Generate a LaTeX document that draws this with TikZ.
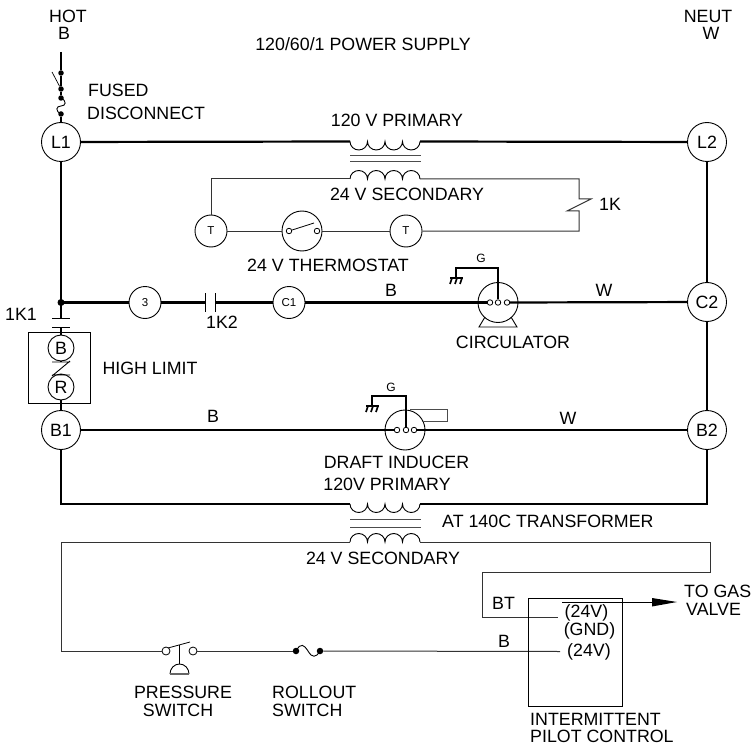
\documentclass[tikz,border=0pt]{standalone}
\usepackage{fontspec}
\setmainfont{Liberation Sans}
\usetikzlibrary{arrows.meta}
\tikzset{
  heavy/.style={line width=2.2pt,black},
  thin wire/.style={line width=1pt,black!80},
  term/.style={circle,draw,line width=0.9pt,fill=white,inner sep=0pt,minimum size=39pt,font=\fontsize{17.8}{18}\selectfont},
  smallterm/.style={circle,draw,line width=0.9pt,fill=white,inner sep=0pt,minimum size=32pt,font=\fontsize{11.5}{12}\selectfont},
  hl/.style={circle,draw,line width=0.9pt,fill=white,inner sep=0pt,minimum size=26pt,font=\fontsize{17.8}{18}\selectfont},
  lab/.style={inner sep=0pt,font=\fontsize{17.8}{18}\selectfont},
  small/.style={inner sep=0pt,font=\fontsize{12}{13}\selectfont},
  pin/.style={circle,draw,line width=0.8pt,fill=white,inner sep=0pt,minimum size=5.5pt},
  blob/.style={circle,fill=black,inner sep=0pt,minimum size=5.5pt},
  motor/.style={circle,draw,line width=0.9pt,inner sep=0pt,minimum size=40pt},
}
\begin{document}
\begin{tikzpicture}[x=1pt,y=-1pt]
\useasboundingbox (0,0) rectangle (752,746);
% terminals
\node[term] (L1) at (61,142) {L1};
\node[term] (L2) at (707,142) {L2};
\node[term] (C2) at (707,302) {C2};
\node[term] (B1) at (61,430) {B1};
\node[term] (B2) at (707,430) {B2};
\node[smallterm] (n3) at (145,302.5) {3};
\node[smallterm] (C1) at (289,302.5) {C1};
\node[hl] (hB) at (61,348) {B};
\node[hl] (hR) at (61,387) {R};
\node[smallterm] (T1) at (211,231) {T};
\node[smallterm] (T2) at (406,231) {T};
\node[motor] (stat) at (302,231) {};
\node[motor] (circ) at (498,302.5) {};
\node[motor] (ind) at (405,430) {};
% coordinates
\coordinate (top) at (61,52);
\coordinate (j) at (61,302.5);
\coordinate (tp1l) at (350,141.5);
\coordinate (tp1r) at (420,141.5);
\coordinate (ts1l) at (350,179);
\coordinate (ts1r) at (420,179);
\coordinate (tp2l) at (350,504);
\coordinate (tp2r) at (420,504);
\coordinate (ts2l) at (350,542);
\coordinate (ts2r) at (420,542);
% fused disconnect
\node[blob] (f1) at (61,73) {};
\node[blob] (f2) at (61,89) {};
\node[blob] (f3) at (61,98) {};
\node[blob] (f4) at (61,114) {};
\draw[heavy] (top) -- (f1);
\draw[heavy] (f1) -- (f2);
\draw[line width=0.7pt] (52,72) -- (f2);
\draw[heavy] (f2) -- (f3);
\draw[line width=0.9pt] (f3.center) .. controls (67,101) and (66,106) .. (61,106) .. controls (56,106) and (55,111) .. (f4.center);
\draw[heavy] (f4) -- (L1);
% main wires
\draw[heavy] (L1) -- (tp1l);
\draw[heavy] (tp1r) -- (L2);
\draw[heavy] (L1) -- (j);
\node[blob,minimum size=7pt] at (j) {};
\draw[heavy] (j) -- (n3);
\draw[heavy] (n3) -- (205,302.5) (215,302.5) -- (C1);
\draw[line width=0.9pt] (205,293) -- (205,312) (215,293) -- (215,312);
\draw[heavy] (C1) -- (490,302.5);
\draw[heavy] (507,302.5) -- (C2);
\draw[heavy] (L2) -- (C2);
\draw[heavy] (C2) -- (B2);
% 1K1 and high limit
\draw[heavy] (j) -- (61,318);
\draw[line width=0.9pt] (52,318) -- (70,318) (52,327) -- (70,327);
\draw[heavy] (61,327) -- (hB);
\draw[line width=1pt] (28,332) rectangle (90,403);
\draw[heavy] (hB) -- (61,362);
\draw[heavy] (61,375) -- (hR);
\draw[line width=0.9pt] (52,362) -- (70,362) (52,375) -- (70,375) (52,376) -- (70,361);
\draw[heavy] (hR) -- (B1);
\draw[heavy] (B1) -- (397,430);
\draw[heavy] (414,430) -- (B2);
\draw[heavy] (B1) -- (61,504) -- (tp2l);
\draw[heavy] (tp2r) -- (707,504) -- (B2);
% transformers
\foreach \ya/\yb/\yc/\yd in {141.5/156/162/179, 504/519/527/542}{
  \draw[line width=1pt,black!70] (350,\yb) -- (421,\yb) (350,\yc) -- (421,\yc);
  \draw[line width=0.9pt] (350,\ya) arc[start angle=180,end angle=0,x radius=8.75,y radius=8.5] arc[start angle=180,end angle=0,x radius=8.75,y radius=8.5] arc[start angle=180,end angle=0,x radius=8.75,y radius=8.5] arc[start angle=180,end angle=0,x radius=8.75,y radius=8.5];
  \draw[line width=0.9pt] (350,\yd) arc[start angle=180,end angle=360,x radius=8.75,y radius=8.5] arc[start angle=180,end angle=360,x radius=8.75,y radius=8.5] arc[start angle=180,end angle=360,x radius=8.75,y radius=8.5] arc[start angle=180,end angle=360,x radius=8.75,y radius=8.5];
}
% thermostat circuit
\draw[thin wire] (ts1l) -| (T1);
\draw[thin wire] (ts1r) -- (579,179) -- (579,199) -- (591,199) -- (567,211) -- (579,211) -- (579,231) -- (T2);
\draw[thin wire] (T1) -- (stat);
\draw[thin wire] (stat) -- (T2);
\node[pin] (s1) at (289,231) {};
\node[pin] (s2) at (317,231) {};
\draw[line width=0.8pt] (s1) -- (314,223);
% circulator
\node[pin] (c1) at (490,302.5) {};
\node[pin] (c2) at (498,302.5) {};
\node[pin] (c3) at (507,302.5) {};
\draw[heavy] (c2) -- (498,268) -- (456,268) -- (456,278);
\draw[line width=0.9pt] (485,317) -- (479,327) -- (517,327) -- (511,317);
% ground
\foreach \gx/\gy in {456/278, 372/406}{
  \draw[heavy] (\gx-6,\gy) -- (\gx+7,\gy);
  \draw[line width=1.6pt] (\gx-4,\gy) -- (\gx-6,\gy+6) (\gx+1,\gy) -- (\gx-1,\gy+6) (\gx+6,\gy) -- (\gx+4,\gy+6);
}
% inducer
\node[pin] (d1) at (397,430) {};
\node[pin] (d2) at (406,430) {};
\node[pin] (d3) at (414,430) {};
\draw[heavy] (d2) -- (406,396) -- (372,396) -- (372,406);
\draw[line width=0.9pt,black!70] (410,409) -- (447,409) -- (447,421) -- (422,421);
% lower circuit
\node[pin,minimum size=8pt] (p1) at (166,651) {};
\node[pin,minimum size=8pt] (p2) at (193,651) {};
\node[blob,minimum size=6.5pt] (r1) at (296,651) {};
\node[blob,minimum size=6.5pt] (r2) at (320,651) {};
\coordinate (cr) at (61,542);
\draw[thin wire] (ts2l) -- (cr) -- (61,651) -- (p1);
\draw[thin wire] (p2) -- (r1);
\draw[line width=0.9pt] (r1.center) .. controls (301,642) and (304,645) .. (308,651) .. controls (312,658) and (316,658) .. (r2.center);
\draw[line width=0.8pt] (168,648) -- (190,642);
\draw[line width=0.9pt] (179,645) -- (179,664);
\draw[line width=0.9pt] (170,674) arc[start angle=180,end angle=360,x radius=9.5,y radius=10];
\draw[line width=1.2pt,black!60] (170,674) -- (189,674);
\draw[thin wire] (ts2r) -- (710,542) -- (710,572) -- (482,572) -- (482,617) -- (558,617);
\draw[thin wire] (r2) -- (560,651.5);
\node[draw,line width=1pt,minimum width=94pt,minimum height=108pt,inner sep=0pt] (ctrl) at (575,652) {};
\coordinate (gv) at (562,602);
\coordinate (gvt) at (677,602);
\draw[line width=0.9pt] (gv) -- (652,602);
\fill (652,598) -- (gvt) -- (652,606.5) -- cycle;
% labels
\node[lab] (hot) at (68,16.5) {HOT};
\node[lab] (hb) at (64,33.5) {B};
\node[lab] (neut) at (708,16.5) {NEUT};
\node[lab] (nw) at (711,33.5) {W};
\node[lab] at (363,44) {120/60/1 POWER SUPPLY};
\node[lab,anchor=west] at (88,90) {FUSED};
\node[lab,anchor=west] at (87,113) {DISCONNECT};
\node[lab] at (397,120) {120 V PRIMARY};
\node[lab] at (407,194) {24 V SECONDARY};
\node[lab] at (610,204) {1K};
\node[lab] at (328,265) {24 V THERMOSTAT};
\node[lab] at (21,314) {1K1};
\node[lab] at (222,322) {1K2};
\node[lab] at (391,290) {B};
\node[lab] at (604,290) {W};
\node[lab] at (513,342) {CIRCULATOR};
\node[small] at (481,258) {G};
\node[small] at (391,387) {G};
\node[lab] at (150,368) {HIGH LIMIT};
\node[lab] at (213,416) {B};
\node[lab] at (568,418) {W};
\node[lab] at (396.5,462) {DRAFT INDUCER};
\node[lab] at (387,484) {120V PRIMARY};
\node[lab,anchor=west] at (442,521) {AT 140C TRANSFORMER};
\node[lab] at (383,558) {24 V SECONDARY};
\node[lab] at (503.5,603) {BT};
\node[lab] at (504,641) {B};
\node[lab] at (586.5,613) {(24V)};
\node[lab] at (589.5,631) {(GND)};
\node[lab] at (589,652) {(24V)};
\node[lab,anchor=west] at (684,591) {TO GAS};
\node[lab,anchor=west] at (686,609) {VALVE};
\node[lab] at (183,692) {PRESSURE};
\node[lab] at (178,710) {SWITCH};
\node[lab,anchor=west] at (272,692) {ROLLOUT};
\node[lab,anchor=west] at (272,710) {SWITCH};
\node[lab,anchor=west] at (530,719) {INTERMITTENT};
\node[lab,anchor=west] at (530,736.5) {PILOT CONTROL};
\end{tikzpicture}
\end{document}
